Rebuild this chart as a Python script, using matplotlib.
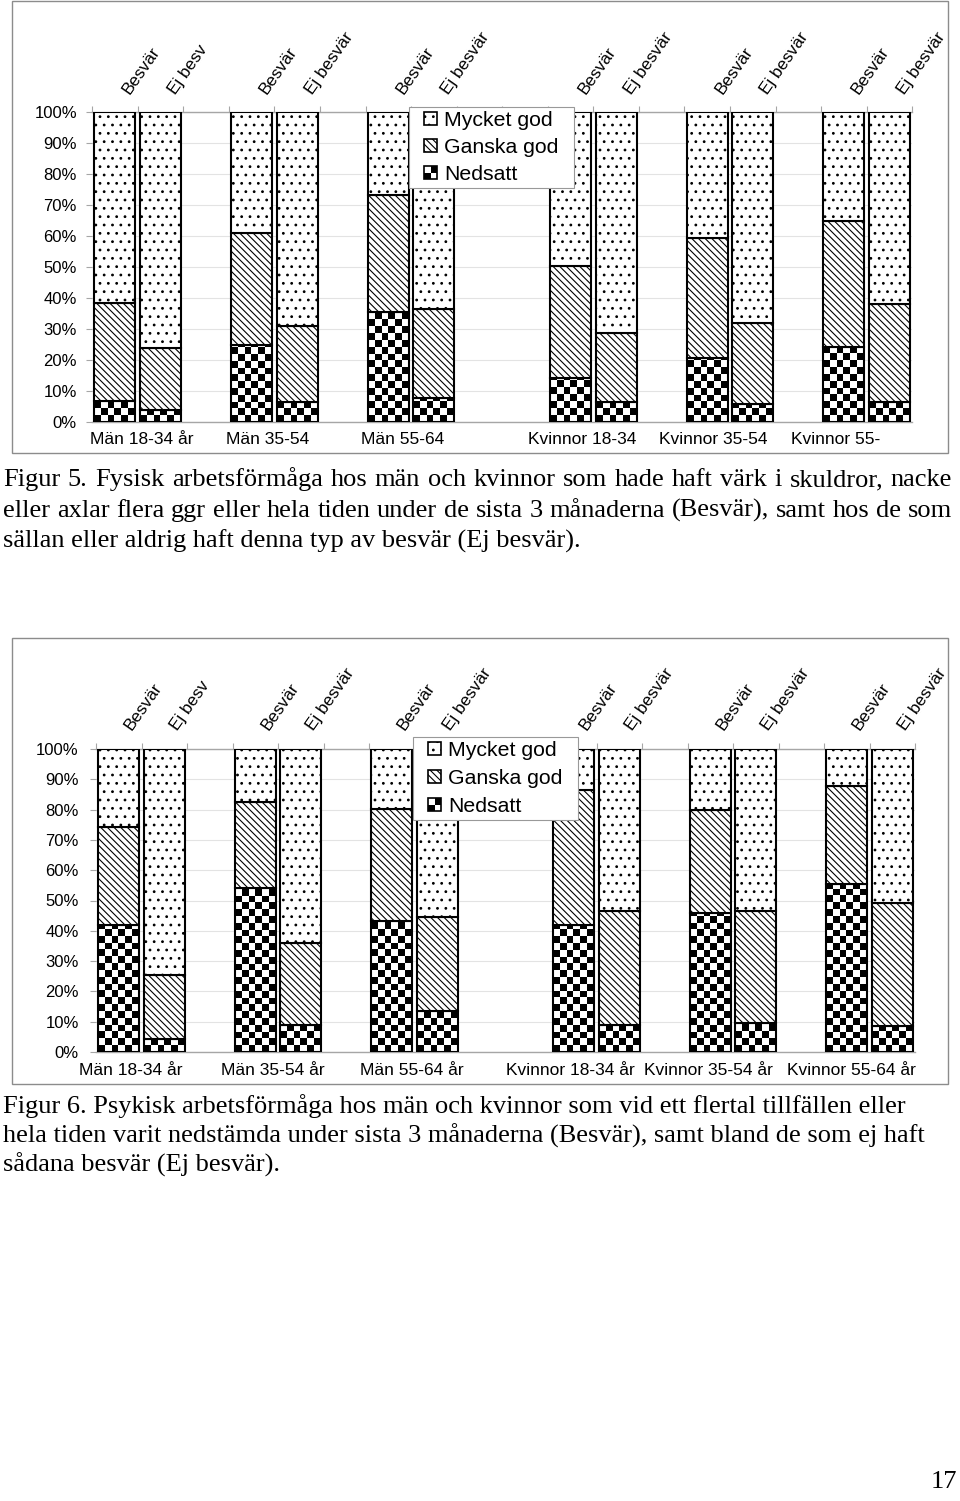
import numpy as np
import matplotlib
matplotlib.use("Agg")
import matplotlib.pyplot as plt
from matplotlib.patches import Rectangle
from matplotlib.path import Path
from matplotlib.colors import ListedColormap
from matplotlib.legend_handler import HandlerBase

plt.rcParams['font.family'] = ['Liberation Sans', 'DejaVu Sans']
plt.rcParams['hatch.linewidth'] = 0.8

# ---------------- data ----------------
legend_labels = ["Mycket god", "Ganska god", "Nedsatt"]

# category slots of the 12 bars on an 18-slot category axis (blank categories between groups)
bar_slots = [0, 1, 3, 4, 6, 7, 10, 11, 13, 14, 16, 17]
n_slots = 18

fig5_groups = ["Män 18-34 år", "Män 35-54", "Män 55-64",
               "Kvinnor 18-34", "Kvinnor 35-54", "Kvinnor 55-"]
fig5_bars = ["Besvär", "Ej besv", "Besvär", "Ej besvär", "Besvär", "Ej besvär",
             "Besvär", "Ej besvär", "Besvär", "Ej besvär", "Besvär", "Ej besvär"]
fig5_nedsatt = [6.7, 4.0, 24.8, 6.3, 35.6, 7.8, 14.2, 6.5, 20.5, 5.7, 24.2, 6.3]
fig5_ganska = [31.8, 20.0, 36.1, 24.6, 37.5, 28.6, 36.2, 22.1, 38.8, 26.3, 40.7, 31.7]
fig5_mycket = [61.5, 76.0, 39.1, 69.1, 26.9, 63.6, 49.6, 71.4, 40.7, 68.0, 35.1, 62.0]

fig6_groups = ["Män 18-34 år", "Män 35-54 år", "Män 55-64 år",
               "Kvinnor 18-34 år", "Kvinnor 35-54 år", "Kvinnor 55-64 år"]
fig6_bars = ["Besvär", "Ej besv", "Besvär", "Ej besvär", "Besvär", "Ej besvär",
             "Besvär", "Ej besvär", "Besvär", "Ej besvär", "Besvär", "Ej besvär"]
fig6_nedsatt = [42.0, 4.3, 54.1, 8.8, 43.3, 13.4, 41.8, 8.8, 45.8, 9.6, 55.4, 8.5]
fig6_ganska = [32.4, 21.0, 28.5, 27.1, 36.8, 31.3, 44.7, 37.6, 34.1, 36.8, 32.5, 40.8]
fig6_mycket = [25.6, 74.7, 17.4, 64.1, 19.9, 55.3, 13.5, 53.6, 20.1, 53.6, 12.1, 50.7]

y_ticks = list(range(0, 101, 10))

caption5 = ["Figur 5.  Fysisk arbetsförmåga hos män och kvinnor som hade haft värk i skuldror, nacke",
            "eller axlar flera ggr eller hela tiden under de sista 3 månaderna (Besvär), samt hos de som",
            "sällan eller aldrig haft denna typ av besvär (Ej besvär)."]
caption6 = ["Figur 6. Psykisk arbetsförmåga hos män och kvinnor som vid ett flertal tillfällen eller",
            "hela tiden varit nedstämda under sista 3 månaderna (Besvär), samt bland de som ej haft",
            "sådana besvär (Ej besvär)."]
page_number = "17"

HATCH_LINES = '\\\\\\\\\\'
HATCH_DOTS = '..'

# ---------------- layout ----------------
W, H = 960, 1501
fig = plt.figure(figsize=(W / 100, H / 100), dpi=100)
fig.patch.set_facecolor('white')


def fx(x):
    return x / W


def fy(y):
    return 1 - y / H


def add_axes_px(l, t, r, b):
    return fig.add_axes([fx(l), fy(b), (r - l) / W, (b - t) / H])


def frame_px(l, t, r, b):
    fig.add_artist(Rectangle((fx(l), fy(b)), (r - l) / W, (b - t) / H,
                             transform=fig.transFigure, fill=False,
                             edgecolor='#8c8c8c', linewidth=1.0))


class SquareHandler(HandlerBase):
    def __init__(self, kind):
        super().__init__()
        self.kind = kind

    def create_artists(self, legend, orig_handle, xdescent, ydescent,
                       width, height, fontsize, trans):
        s = 9.4
        x0 = -xdescent + width - s
        y0 = -ydescent + (height - s) / 2
        if self.kind == 'check':
            base = Rectangle((x0, y0), s, s, facecolor='white', edgecolor='none', transform=trans)
            q1 = Rectangle((x0 + s / 2, y0 + s / 2), s / 2, s / 2, facecolor='black',
                           edgecolor='none', transform=trans)
            q2 = Rectangle((x0, y0), s / 2, s / 2, facecolor='black',
                           edgecolor='none', transform=trans)
            border = Rectangle((x0, y0), s, s, facecolor='none', edgecolor='black',
                               linewidth=1.2, transform=trans)
            return [base, q1, q2, border]
        hatch = HATCH_DOTS if self.kind == 'dots' else HATCH_LINES
        r = Rectangle((x0, y0), s, s, facecolor='white', edgecolor='black',
                      hatch=hatch, linewidth=1.2, transform=trans)
        return [r]


def make_box(padx, pady):
    def box(x0, y0, width, height, mutation_size):
        verts = [(x0 - padx, y0 - pady), (x0 + width + padx, y0 - pady),
                 (x0 + width + padx, y0 + height + pady), (x0 - padx, y0 + height + pady),
                 (x0 - padx, y0 - pady)]
        return Path(verts, [Path.MOVETO, Path.LINETO, Path.LINETO, Path.LINETO, Path.CLOSEPOLY])
    return box


def draw_chart(ax, groups, bars, nedsatt, ganska, mycket, group_pos,
               label_dx, label_dy, group_dy, ypad, legend_px, legend_spacing):
    slots = np.array(bar_slots)
    ax.set_xlim(-0.5, n_slots - 0.5)
    ax.set_ylim(0, 100)
    ned = np.array(nedsatt)
    gan = np.array(ganska)
    myc = np.array(mycket)
    width = 0.9
    b_ned = ax.bar(slots, ned, width, facecolor='none', edgecolor='black',
                   linewidth=1.5, zorder=3)
    b_gan = ax.bar(slots, gan, width, bottom=ned, facecolor='white', edgecolor='black',
                   hatch=HATCH_LINES, linewidth=1.5, zorder=3)
    b_myc = ax.bar(slots, myc, width, bottom=ned + gan, facecolor='white', edgecolor='black',
                   hatch=HATCH_DOTS, linewidth=1.5, zorder=3)

    # checkerboard fill for "Nedsatt"
    p0 = ax.transData.transform((0, 0))
    p1 = ax.transData.transform((1, 1))
    cell = 6.8
    cw = cell / (p1[0] - p0[0])
    ch = cell / (p1[1] - p0[1])
    cmap = ListedColormap(['black', 'white'])
    for rect in b_ned:
        x0, w = rect.get_x(), rect.get_width()
        y0, h = rect.get_y(), rect.get_height()
        nx = int(np.ceil(w / cw))
        ny = int(np.ceil(h / ch))
        arr = np.add.outer(np.arange(ny), np.arange(nx)) % 2
        im = ax.imshow(arr, cmap=cmap, vmin=0, vmax=1, interpolation='nearest',
                       origin='lower', extent=[x0, x0 + nx * cw, y0, y0 + ny * ch],
                       aspect='auto', zorder=2.5)
        im.set_clip_path(rect)
    ax.set_xlim(-0.5, n_slots - 0.5)
    ax.set_ylim(0, 100)

    # axes styling
    for s in ['left', 'right']:
        ax.spines[s].set_visible(False)
    for s in ['top', 'bottom']:
        ax.spines[s].set_color('#a6a6a6')
        ax.spines[s].set_linewidth(1.0)
    ax.set_yticks(y_ticks)
    ax.set_yticklabels([f"{v}%" for v in y_ticks])
    ax.tick_params(axis='y', length=4, color='#a6a6a6', labelsize=12, pad=ypad)
    ax.yaxis.grid(True, color='#e3e3e3', linewidth=0.8)
    ax.set_axisbelow(True)
    ax.set_xticks(np.arange(-0.5, n_slots, 1))
    ax.tick_params(axis='x', which='both', bottom=False, top=True, labelbottom=False,
                   labeltop=False, length=4, color='#a6a6a6', direction='out')

    # rotated bar labels on top
    for k, s in enumerate(slots):
        ax.annotate(bars[k], xy=(s, 1), xycoords=('data', 'axes fraction'),
                    xytext=(label_dx, label_dy), textcoords='offset points',
                    rotation=55, rotation_mode='anchor', ha='left', va='baseline',
                    fontsize=12.3, annotation_clip=False)
    # group labels at bottom
    for name, xp in zip(groups, group_pos):
        ax.annotate(name, xy=(xp, 0), xycoords=('data', 'axes fraction'),
                    xytext=(0, -group_dy), textcoords='offset points',
                    ha='center', va='center', fontsize=12.5, annotation_clip=False)

    # legend
    padx, pady = 15, 4
    lx, ly = legend_px
    leg = ax.legend([b_myc, b_gan, b_ned], legend_labels,
                    handler_map={b_myc: SquareHandler('dots'),
                                 b_gan: SquareHandler('hatch'),
                                 b_ned: SquareHandler('check')},
                    loc='upper left', bbox_to_anchor=(fx(lx + padx), fy(ly + pady)),
                    bbox_transform=fig.transFigure, borderaxespad=0, borderpad=0,
                    fontsize=15.3, handlelength=9.4 / 15.3, handleheight=0.6,
                    handletextpad=0.35, labelspacing=legend_spacing, fancybox=False,
                    framealpha=1, edgecolor='#999999')
    leg.get_frame().set_boxstyle(make_box(padx, pady))
    leg.get_frame().set_linewidth(0.8)
    leg.set_zorder(10)


# ---------------- chart 1 (Figur 5) ----------------
frame_px(12, 1, 948, 453)
ax1 = add_axes_px(92.2, 112, 912.2, 422)
draw_chart(ax1, fig5_groups, fig5_bars, fig5_nedsatt, fig5_ganska, fig5_mycket,
           group_pos=[0.59, 3.36, 6.32, 10.25, 13.13, 15.83],
           label_dx=10.8, label_dy=12.2, group_dy=12.8, ypad=7, legend_px=(409, 107),
           legend_spacing=0.38)

# ---------------- chart 2 (Figur 6) ----------------
frame_px(12, 638, 948, 1084)
ax2 = add_axes_px(96.2, 749, 915.2, 1052)
draw_chart(ax2, fig6_groups, fig6_bars, fig6_nedsatt, fig6_ganska, fig6_mycket,
           group_pos=[0.27, 3.39, 6.44, 9.93, 12.95, 16.09],
           label_dx=9.4, label_dy=13, group_dy=13, ypad=8.5, legend_px=(413, 737),
           legend_spacing=0.43)

# ---------------- captions ----------------
SERIF = ['Liberation Serif', 'DejaVu Serif']
CAP_SIZE = 19
renderer = fig.canvas.get_renderer()


def justified(line, x_left, x_right, y_base):
    words = line.split()
    texts = [fig.text(0, fy(y_base), w, fontsize=CAP_SIZE, family=SERIF, va='baseline')
             for w in words]
    widths = [t.get_window_extent(renderer).width for t in texts]
    gap = (x_right - x_left - sum(widths)) / (len(words) - 1)
    x = x_left
    for t, w in zip(texts, widths):
        t.set_x(fx(x))
        x += w + gap


def plain(line, x_left, y_base):
    fig.text(fx(x_left), fy(y_base), line, fontsize=CAP_SIZE, family=SERIF, va='baseline')


justified(caption5[0], 3, 952, 486)
justified(caption5[1], 3, 952, 517)
plain(caption5[2], 3, 548)

plain(caption6[0], 3, 1113)
plain(caption6[1], 3, 1142.5)
plain(caption6[2], 3, 1172)

fig.text(fx(957), fy(1488), page_number, fontsize=CAP_SIZE, family=SERIF,
         ha='right', va='baseline')

fig.savefig("out.png", dpi=100)
